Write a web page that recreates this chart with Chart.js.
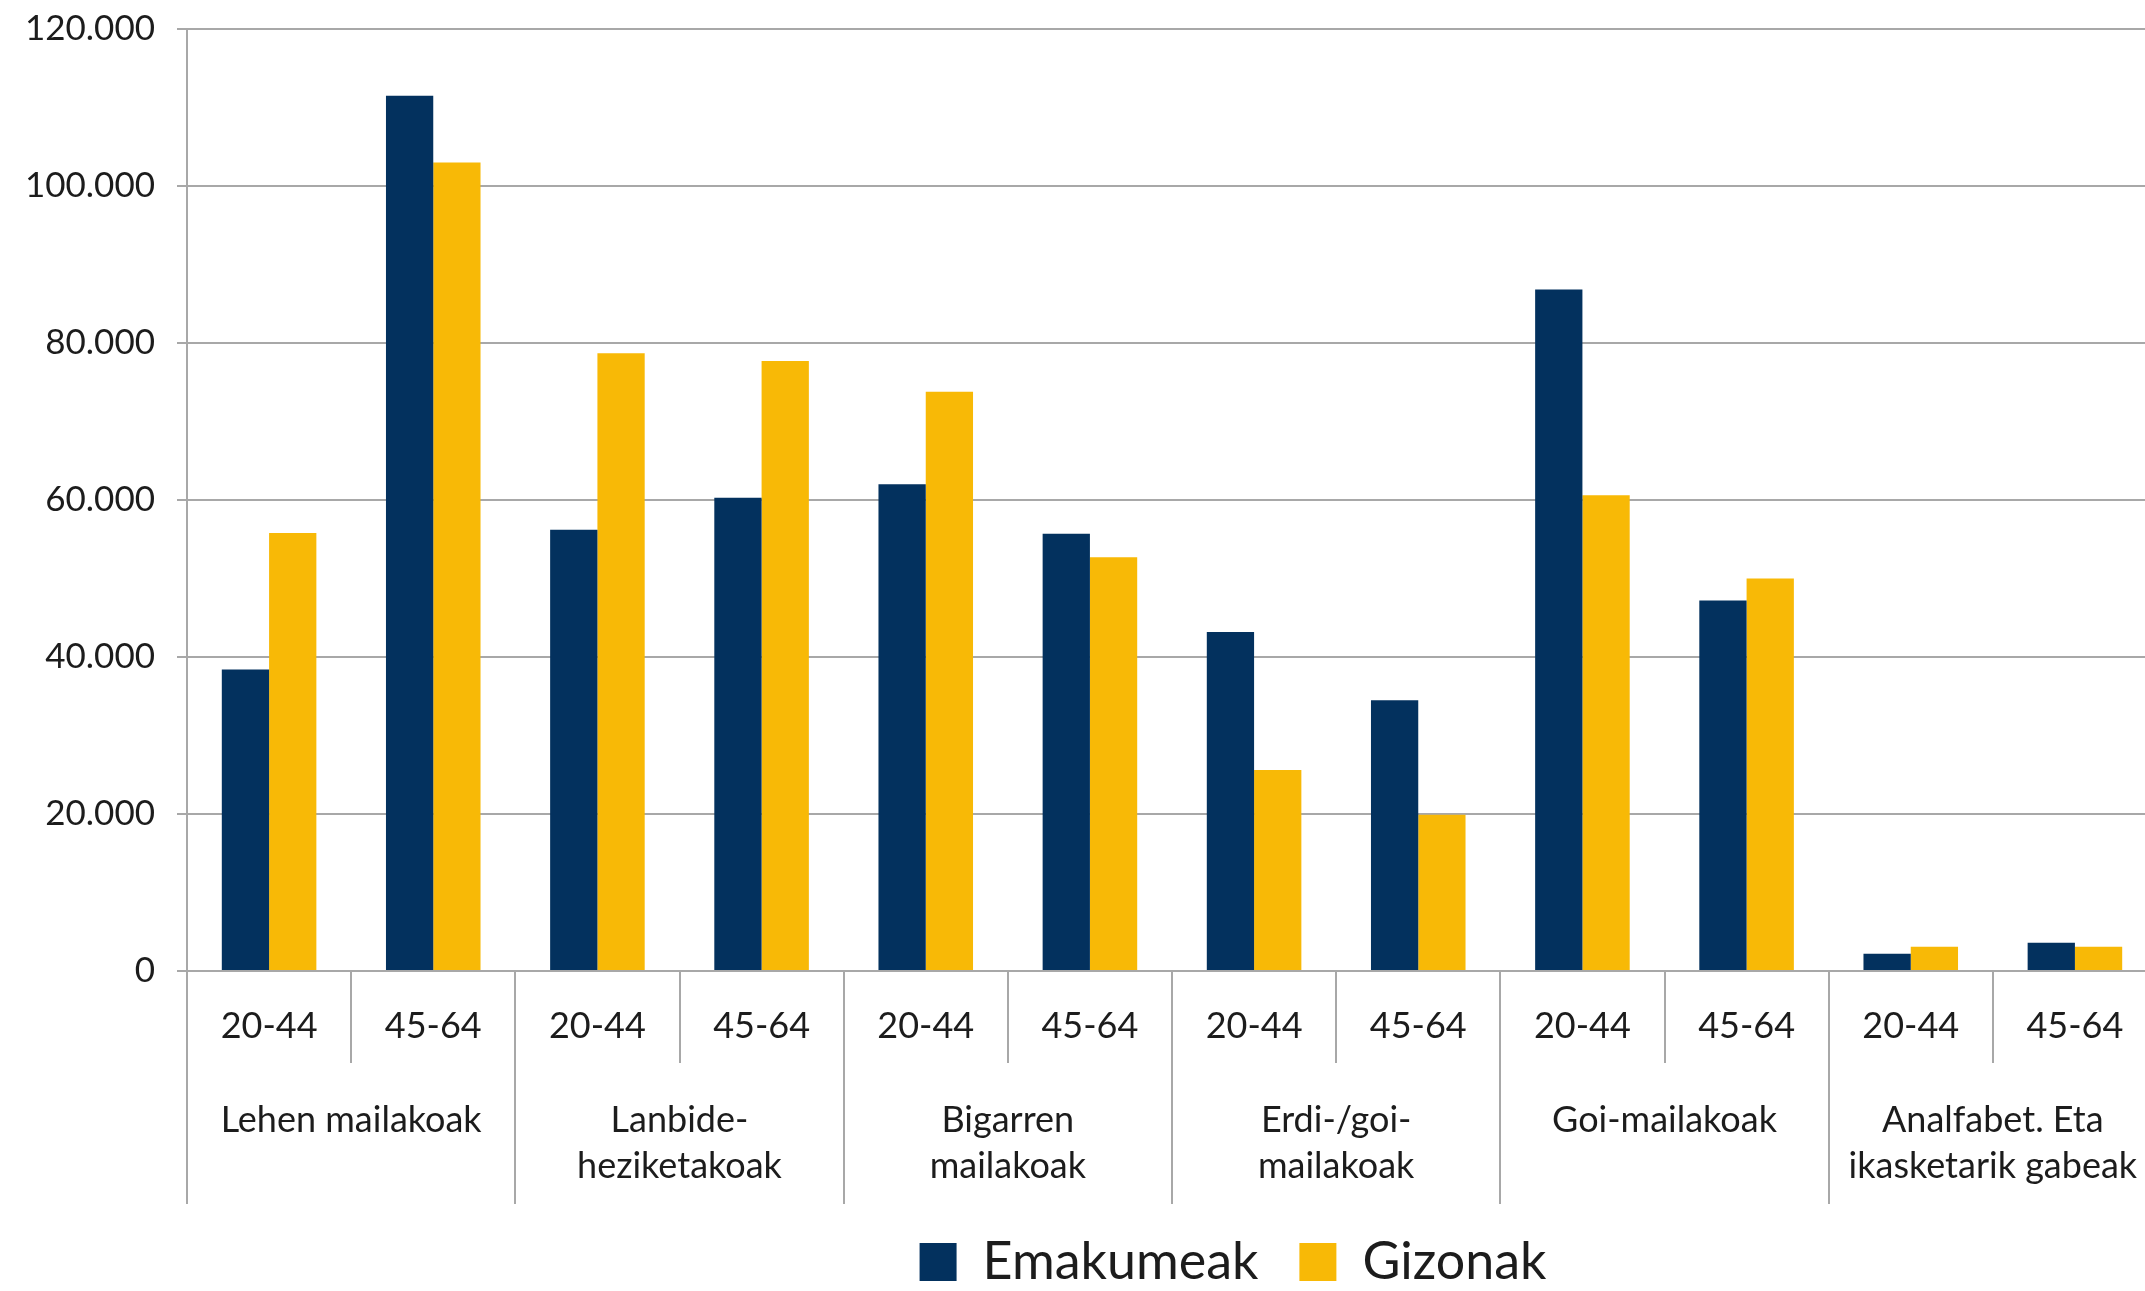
<!DOCTYPE html>
<html>
<head>
<meta charset="utf-8">
<style>
    html, body { margin: 0; padding: 0; background: #ffffff; overflow: hidden; }
</style>
</head>
<body>
<!-- the plot runs a little past the right edge, as in the original -->
<canvas id="barChart" width="2157" height="1291"></canvas>
<script src="https://cdn.jsdelivr.net/npm/chart.js"></script>
<script>
    // adin-taldeak (lehen mailako ardatza)
    const ageLabels = ['20-44', '45-64', '20-44', '45-64', '20-44', '45-64',
                       '20-44', '45-64', '20-44', '45-64', '20-44', '45-64'];
    // ikasketa mailak (bigarren mailako ardatza)
    const groupLabels = [
        'Lehen mailakoak',
        ['Lanbide-', 'heziketakoak'],
        ['Bigarren', 'mailakoak'],
        ['Erdi-/goi-', 'mailakoak'],
        'Goi-mailakoak',
        ['Analfabet. Eta', 'ikasketarik gabeak']
    ];
    const emakumeak = [38400, 111500, 56200, 60300, 62000, 55700, 43200, 34500, 86800, 47200, 2200, 3600];
    const gizonak = [55800, 103000, 78700, 77700, 73800, 52700, 25600, 19900, 60600, 50000, 3100, 3100];
    const yMax = 120000;
    const yStep = 20000;

    const gridColor = '#a8a8a8';
    const textColor = '#1c1c1c';
    const fontName = 'Lato';

    function thousands(v) {
        return String(v).replace(/\B(?=(\d{3})+(?!\d))/g, '.');
    }

    // legenda grafikoaren azpian erdiratzeko
    const legendShift = {
        id: 'legendShift',
        afterLayout(chart) {
            const lg = chart.legend;
            lg.left += 61;
            lg.right += 61;
            lg.top += 7;
            lg.bottom += 7;
        }
    };

    const data = {
        labels: ageLabels,
        datasets: [{
            label: 'Emakumeak',
            data: emakumeak,
            backgroundColor: '#03315e',
            borderWidth: 0
        }, {
            label: 'Gizonak',
            data: gizonak,
            backgroundColor: '#f8b906',
            borderWidth: 0
        }]
    };

    const config = {
        type: 'bar',
        data: data,
        plugins: [legendShift],
        options: {
            responsive: false,
            animation: false,
            devicePixelRatio: 1,
            categoryPercentage: 0.576,
            barPercentage: 1.0,
            layout: {
                padding: {top: 29, right: 0, bottom: 0, left: 0}
            },
            plugins: {
                tooltip: {enabled: false},
                legend: {
                    position: 'bottom',
                    fullSize: false,
                    labels: {
                        boxWidth: 37,
                        boxHeight: 38,
                        padding: 41,
                        color: textColor,
                        font: {family: fontName, size: 52}
                    }
                }
            },
            scales: {
                x: {
                    type: 'category',
                    position: 'bottom',
                    offset: true,
                    grid: {
                        offset: true,
                        drawOnChartArea: false,
                        tickLength: 92,
                        color: gridColor,
                        lineWidth: 2
                    },
                    border: {color: gridColor, width: 2},
                    ticks: {
                        color: textColor,
                        font: {family: fontName, size: 36},
                        padding: -58,
                        maxRotation: 0,
                        autoSkip: false
                    },
                    afterFit: s => { s.height = 92; }
                },
                x2: {
                    type: 'category',
                    position: 'bottom',
                    labels: groupLabels,
                    offset: true,
                    grid: {
                        offset: true,
                        drawOnChartArea: false,
                        tickLength: 141,
                        color: gridColor,
                        lineWidth: 2
                    },
                    border: {display: false},
                    ticks: {
                        color: textColor,
                        font: {family: fontName, size: 36, lineHeight: 1.28},
                        padding: -107,
                        maxRotation: 0,
                        autoSkip: false
                    },
                    afterFit: s => { s.height = 125; }
                },
                y: {
                    min: 0,
                    max: yMax,
                    grid: {color: gridColor, lineWidth: 2, tickLength: 10},
                    border: {color: gridColor, width: 2},
                    ticks: {
                        stepSize: yStep,
                        color: textColor,
                        font: {family: fontName, size: 35, lineHeight: 0.4},
                        padding: 22,
                        callback: v => thousands(v)
                    },
                    afterFit: s => { s.width = 187; }
                }
            }
        }
    };

    const barChart = new Chart(document.getElementById('barChart').getContext('2d'), config);
</script>
</body>
</html>
